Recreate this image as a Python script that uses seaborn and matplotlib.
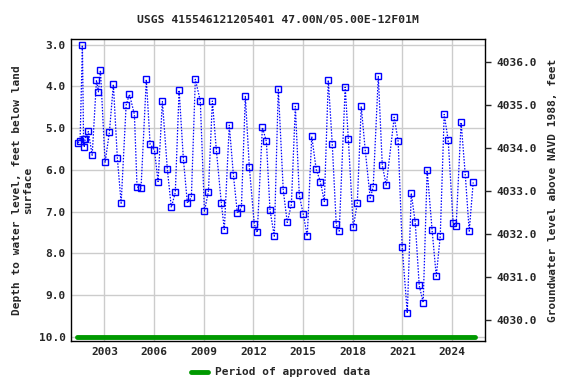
import numpy as np
import pandas as pd
import matplotlib
matplotlib.use("Agg")
import matplotlib.pyplot as plt
import seaborn as sns

# --- data (decimal year, depth in feet) ---
years = [
    2001.41, 2001.53, 2001.67, 2001.74, 2001.78, 2001.84, 2002.03, 2002.26,
    2002.52, 2002.64, 2002.76, 2003.04, 2003.30, 2003.54, 2003.78, 2004.01,
    2004.31, 2004.51, 2004.81, 2004.97, 2005.21, 2005.53, 2005.76, 2006.02,
    2006.24, 2006.50, 2006.80, 2007.04, 2007.28, 2007.51, 2007.77, 2008.01,
    2008.25, 2008.49, 2008.79, 2009.04, 2009.28, 2009.52, 2009.76, 2010.06,
    2010.24, 2010.54, 2010.79, 2011.03, 2011.27, 2011.51, 2011.75, 2012.05,
    2012.23, 2012.54, 2012.78, 2013.00, 2013.26, 2013.50, 2013.80, 2014.04,
    2014.29, 2014.53, 2014.77, 2015.01, 2015.25, 2015.52, 2015.79, 2016.04,
    2016.28, 2016.52, 2016.76, 2017.00, 2017.18, 2017.54, 2017.73, 2018.03,
    2018.27, 2018.51, 2018.75, 2019.05, 2019.23, 2019.54, 2019.78, 2020.02,
    2020.50, 2020.74, 2020.98, 2021.29, 2021.53, 2021.77, 2022.01, 2022.25,
    2022.49, 2022.79, 2023.04, 2023.28, 2023.52, 2023.76, 2024.06, 2024.24,
    2024.54, 2024.79, 2025.03, 2025.27,
]
depths = [
    5.35, 5.30, 3.01, 5.27, 5.46, 5.25, 5.08, 5.65,
    3.85, 4.13, 3.61, 5.82, 5.10, 3.95, 5.72, 6.80,
    4.45, 4.19, 4.67, 6.41, 6.44, 3.83, 5.39, 5.53,
    6.28, 4.36, 5.99, 6.90, 6.54, 4.09, 5.75, 6.80,
    6.66, 3.83, 4.35, 6.99, 6.52, 4.35, 5.53, 6.80,
    7.43, 4.93, 6.13, 7.04, 6.92, 4.24, 5.93, 7.30,
    7.50, 4.98, 5.32, 6.97, 7.59, 4.05, 6.49, 7.26,
    6.83, 4.48, 6.61, 7.07, 7.59, 5.20, 5.99, 6.28,
    6.76, 3.85, 5.39, 7.31, 7.47, 4.02, 5.27, 7.38,
    6.80, 4.48, 5.53, 6.68, 6.42, 3.76, 5.89, 6.37,
    4.74, 5.32, 7.84, 9.44, 6.56, 7.26, 8.77, 9.18,
    6.01, 7.45, 8.55, 7.59, 4.67, 5.29, 7.28, 7.35,
    4.86, 6.11, 7.47, 6.30,
]
approved_start = 2001.33
approved_end = 2025.40

x_ticks = [2003, 2006, 2009, 2012, 2015, 2018, 2021, 2024]
left_ticks = [3.0, 4.0, 5.0, 6.0, 7.0, 8.0, 9.0, 10.0]
right_ticks = [4030.0, 4031.0, 4032.0, 4033.0, 4034.0, 4035.0, 4036.0]

df = pd.DataFrame({"year": years, "depth": depths})

sns.set_style("white")
plt.rcParams["font.family"] = ["DejaVu Sans Mono", "DejaVu Sans"]
plt.rcParams["font.weight"] = "bold"

fig = plt.figure(figsize=(5.76, 3.84), dpi=100)
ax = fig.add_axes([0.1238, 0.1112, 0.7187, 0.7865])

sns.lineplot(data=df, x="year", y="depth", ax=ax, color="blue",
             linestyle=(0, (1.2, 1.2)), linewidth=0.9, marker="s",
             markersize=4.5, markerfacecolor="none", markeredgecolor="blue",
             markeredgewidth=1.0, estimator=None, sort=False)

# period of approved data
sns.lineplot(x=[approved_start, approved_end], y=[10.0, 10.0], ax=ax,
             color="#009900", linewidth=3.5, label="Period of approved data",
             legend=False)

ax.set_xlim(2001.0, 2026.0)
ax.set_ylim(10.11, 2.87)
ax.set_xticks(x_ticks)
ax.set_xticklabels([str(t) for t in x_ticks], fontsize=8, fontweight="bold")
ax.set_yticks(left_ticks)
ax.set_yticklabels([f"{t:.1f}" for t in left_ticks], fontsize=8, fontweight="bold")
ax.tick_params(axis="both", length=0, pad=4)
ax.grid(True, color="#cccccc", linewidth=1.0)
ax.set_axisbelow(True)
for s in ax.spines.values():
    s.set_color("black")
    s.set_linewidth(1.0)

ax.set_xlabel("")
ax.set_ylabel("Depth to water level, feet below land\nsurface", fontsize=8,
              fontweight="bold")
ax.set_title("USGS 415546121205401 47.00N/05.00E-12F01M", fontsize=8.2,
             fontweight="bold", pad=12)

ax2 = ax.twinx()
ax2.set_ylim(4029.50, 4036.54)
ax2.set_yticks(right_ticks)
ax2.set_yticklabels([f"{t:.1f}" for t in right_ticks], fontsize=8, fontweight="bold")
ax2.tick_params(axis="y", length=4, width=1, direction="out", pad=4)
ax2.set_ylabel("Groundwater level above NAVD 1988, feet", fontsize=8,
               fontweight="bold", labelpad=8)
for s in ax2.spines.values():
    s.set_visible(False)

handles, labels = ax.get_legend_handles_labels()
fig.legend(handles, labels, loc="center", bbox_to_anchor=(0.487, 0.03),
           frameon=False, prop={"size": 8, "weight": "bold"},
           handlelength=1.6, handletextpad=0.6)

fig.savefig("out.png", dpi=100)
